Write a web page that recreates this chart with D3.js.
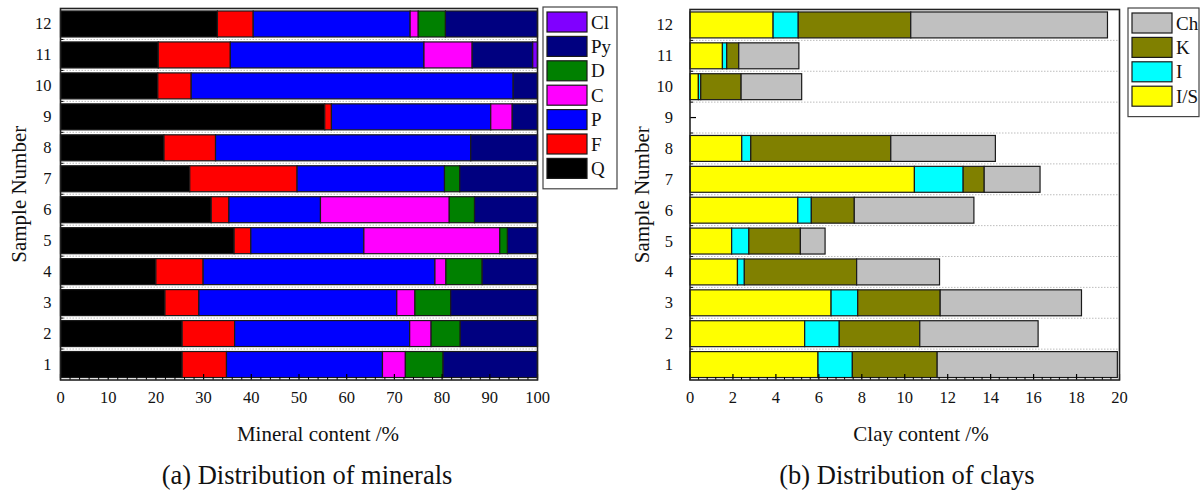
<!DOCTYPE html>
<html>
<head>
<meta charset="utf-8">
<script src="https://cdn.jsdelivr.net/npm/d3@7/dist/d3.min.js"></script>
<style>
  html, body { margin: 0; padding: 0; background: #fff; }
  svg { display: block; font-family: "Liberation Serif", "Times New Roman", serif; }
</style>
</head>
<body>
<svg id="chart" width="1202" height="492"></svg>
<script>
// Sample numbers (rows) shared by both panels
const samples = [1, 2, 3, 4, 5, 6, 7, 8, 9, 10, 11, 12];

// (a) Mineral composition, % per sample (rows follow `samples`)
const mineralKeys = ["Q", "F", "P", "C", "D", "Py", "Cl"];
const quartz      = [25.5, 25.5, 21.9, 20.0, 36.4, 31.6, 27.1, 21.7, 55.4, 20.4, 20.5, 32.9];
const feldspar    = [ 9.3, 11.0,  7.1,  9.9,  3.5,  3.7, 22.5, 10.8,  1.4,  7.0, 15.1,  7.5];
const plagioclase = [32.7, 36.7, 41.5, 48.6, 23.7, 19.2, 30.9, 53.5, 33.4, 67.5, 40.6, 32.9];
const calcite     = [ 4.8,  4.5,  3.8,  2.3, 28.5, 27.0,  0.0,  0.0,  4.5,  0.0, 10.1,  1.7];
const dolomite    = [ 7.9,  6.1,  7.5,  7.6,  1.6,  5.3,  3.2,  0.0,  0.0,  0.0,  0.0,  5.7];
const pyrite      = [19.8, 16.2, 18.2, 11.6,  6.3, 13.2, 16.3, 14.0,  5.3,  5.1, 12.7, 19.3];
const chloriteM   = [ 0.0,  0.0,  0.0,  0.0,  0.0,  0.0,  0.0,  0.0,  0.0,  0.0,  1.0,  0.0];
const mineralTicks = [0, 10, 20, 30, 40, 50, 60, 70, 80, 90, 100];

// (b) Clay content, % per sample
const clayKeys = ["I/S", "I", "K", "Ch"];
const illiteSmectite = [5.96, 5.34, 6.57, 2.21, 1.94, 5.02, 10.45, 2.41, 0, 0.39, 1.51, 3.87];
const illite         = [1.60, 1.61, 1.24, 0.32, 0.80, 0.63,  2.27, 0.42, 0, 0.11, 0.20, 1.17];
const kaolinite      = [3.95, 3.75, 3.84, 5.23, 2.40, 2.00,  0.98, 6.52, 0, 1.88, 0.56, 5.24];
const chlorite       = [8.39, 5.51, 6.58, 3.86, 1.15, 5.57,  2.60, 4.87, 0, 2.82, 2.80, 9.16];
const clayTicks = [0, 2, 4, 6, 8, 10, 12, 14, 16, 18, 20];

const mineralColors = { Q: "#000000", F: "#ff0000", P: "#0000ff", C: "#ff00ff", D: "#008000", Py: "#000080", Cl: "#8000ff" };
const clayColors = { "I/S": "#ffff00", I: "#00ffff", K: "#808000", Ch: "#c0c0c0" };

const mineralRows = samples.map((s, i) => ({
  sample: s, Q: quartz[i], F: feldspar[i], P: plagioclase[i], C: calcite[i],
  D: dolomite[i], Py: pyrite[i], Cl: chloriteM[i]
}));
const clayRows = samples.map((s, i) => ({
  sample: s, "I/S": illiteSmectite[i], I: illite[i], K: kaolinite[i], Ch: chlorite[i]
}));

const svg = d3.select("#chart");

function drawPanel(cfg) {
  const { left, right, top, bottom, rows, keys, colors, xMax, ticks, minorStep,
          xTitle, xTitleX, caption, captionX, yLabelOffset, yTitleX, legend } = cfg;

  const x = d3.scaleLinear().domain([0, xMax]).range([left, right]);
  const y = d3.scaleBand().domain(samples).range([bottom, top])
    .paddingInner(0.16).paddingOuter(0.08);
  const step = y.step();
  const g = svg.append("g");

  // dotted separators between rows
  const bounds = samples.slice(0, -1).map(s => y(s) - step * 0.08);
  g.append("g").selectAll("line").data(bounds).join("line")
    .attr("x1", left).attr("x2", right)
    .attr("y1", d => d).attr("y2", d => d)
    .attr("stroke", "#bdbdbd").attr("stroke-width", 1)
    .attr("stroke-dasharray", "1.5,1.5");

  // y ticks: major at row centres, minor at row boundaries (inward)
  g.append("g").selectAll("line").data(samples).join("line")
    .attr("x1", left).attr("x2", left + 6)
    .attr("y1", d => y(d) + y.bandwidth() / 2).attr("y2", d => y(d) + y.bandwidth() / 2)
    .attr("stroke", "#000").attr("stroke-width", 1.2);
  g.append("g").selectAll("line").data(bounds).join("line")
    .attr("x1", left).attr("x2", left + 3)
    .attr("y1", d => d).attr("y2", d => d)
    .attr("stroke", "#000").attr("stroke-width", 1);

  // stacked bars
  const series = d3.stack().keys(keys)(rows);
  g.append("g").selectAll("g").data(series).join("g")
    .attr("fill", d => colors[d.key])
    .selectAll("rect").data(d => d.filter(v => v[1] - v[0] > 0)).join("rect")
      .attr("x", d => x(d[0]))
      .attr("y", d => y(d.data.sample))
      .attr("width", d => x(d[1]) - x(d[0]))
      .attr("height", y.bandwidth())
      .attr("stroke", "#1a1a1a").attr("stroke-width", 1.2);

  // x axis ticks (inward), major + minor
  const minor = d3.range(0, xMax + 1e-9, minorStep).filter(v => !ticks.some(t => Math.abs(t - v) < 1e-6));
  g.append("g").selectAll("line").data(minor).join("line")
    .attr("x1", d => x(d)).attr("x2", d => x(d))
    .attr("y1", bottom).attr("y2", bottom - 3)
    .attr("stroke", "#000").attr("stroke-width", 1);
  g.append("g").selectAll("line").data(ticks).join("line")
    .attr("x1", d => x(d)).attr("x2", d => x(d))
    .attr("y1", bottom).attr("y2", bottom - 6)
    .attr("stroke", "#000").attr("stroke-width", 1.2);

  // frame
  g.append("rect")
    .attr("x", left).attr("y", top)
    .attr("width", right - left).attr("height", bottom - top)
    .attr("fill", "none").attr("stroke", "#222").attr("stroke-width", 1.6);

  // tick labels
  g.append("g").selectAll("text").data(ticks).join("text")
    .attr("x", d => x(d)).attr("y", bottom + 23)
    .attr("text-anchor", "middle").attr("font-size", 16.5).attr("fill", "#111")
    .text(d => d);
  g.append("g").selectAll("text").data(samples).join("text")
    .attr("x", left - yLabelOffset)
    .attr("y", d => y(d) + y.bandwidth() / 2 + 5.5)
    .attr("text-anchor", "end").attr("font-size", 16.5).attr("fill", "#111")
    .text(d => d);

  // axis titles
  g.append("text")
    .attr("x", xTitleX).attr("y", bottom + 61)
    .attr("text-anchor", "middle").attr("font-size", 21).attr("fill", "#111")
    .text(xTitle);
  g.append("text")
    .attr("transform", `translate(${yTitleX},${(top + bottom) / 2}) rotate(-90)`)
    .attr("text-anchor", "middle").attr("font-size", 21).attr("fill", "#111")
    .text("Sample Number");

  // caption
  g.append("text")
    .attr("x", captionX).attr("y", 484)
    .attr("text-anchor", "middle").attr("font-size", 26.5).attr("fill", "#111")
    .text(caption);

  // legend
  const lg = g.append("g");
  const items = keys.slice().reverse();
  const rowH = 24.4;
  lg.append("rect")
    .attr("x", legend.x).attr("y", legend.y)
    .attr("width", legend.w).attr("height", items.length * rowH + 11)
    .attr("fill", "#fff").attr("stroke", "#444").attr("stroke-width", 1.2);
  const it = lg.selectAll("g").data(items).join("g")
    .attr("transform", (d, i) => `translate(${legend.x + 4},${legend.y + 5 + i * rowH})`);
  it.append("rect")
    .attr("width", 40).attr("height", 20)
    .attr("fill", d => colors[d]).attr("stroke", "#1a1a1a").attr("stroke-width", 1.2);
  it.append("text")
    .attr("x", 44).attr("y", 16.5)
    .attr("font-size", 19).attr("fill", "#111")
    .text(d => d);
}

drawPanel({
  left: 60.5, right: 537.5, top: 8.5, bottom: 380,
  rows: mineralRows, keys: mineralKeys, colors: mineralColors,
  xMax: 100, ticks: mineralTicks, minorStep: 2,
  xTitle: "Mineral content /%", xTitleX: 318,
  caption: "(a) Distribution of minerals", captionX: 307,
  yLabelOffset: 9, yTitleX: 26,
  legend: { x: 543, y: 7, w: 74 }
});

drawPanel({
  left: 690, right: 1119.5, top: 9.5, bottom: 380,
  rows: clayRows, keys: clayKeys, colors: clayColors,
  xMax: 20, ticks: clayTicks, minorStep: 0.4,
  xTitle: "Clay content /%", xTitleX: 921,
  caption: "(b) Distribution of clays", captionX: 907,
  yLabelOffset: 17, yTitleX: 649,
  legend: { x: 1128, y: 8, w: 71 }
});
</script>
</body>
</html>
